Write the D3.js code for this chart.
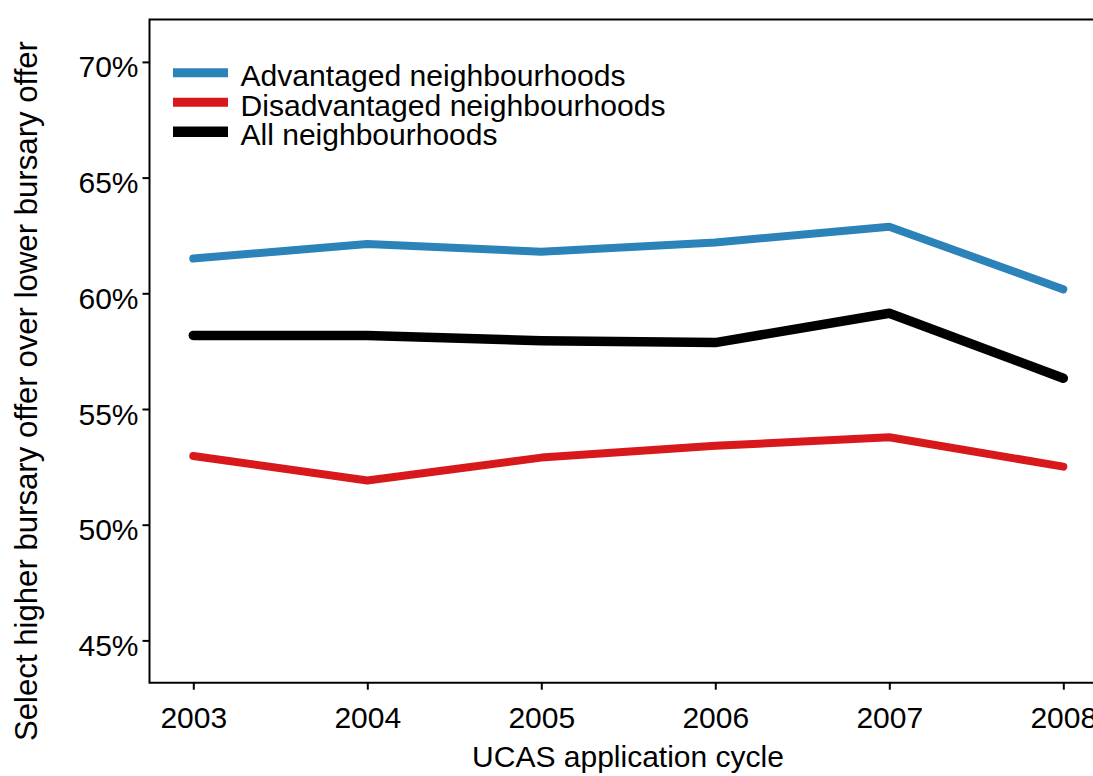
<!DOCTYPE html>
<html>
<head>
<meta charset="utf-8">
<script src="https://cdn.jsdelivr.net/npm/d3@7"></script>
<style>
  body { margin: 0; background: #fff; }
  svg { display: block; font-family: "Liberation Sans", Arial, sans-serif; }
  .axis text { font-size: 30px; fill: #000; }
  .axis line { stroke: #000; stroke-width: 2; }
  .axis path { display: none; }
</style>
</head>
<body>
<svg id="chart" width="1093" height="776"></svg>
<script>
const years = [2003, 2004, 2005, 2006, 2007, 2008];
const advantaged = [61.5, 62.13, 61.8, 62.2, 62.88, 60.17];
const disadvantaged = [52.97, 51.91, 52.9, 53.41, 53.78, 52.51];
const allHoods = [58.18, 58.18, 57.95, 57.87, 59.14, 56.33];
const yTicks = [45, 50, 55, 60, 65, 70];

const seriesNames = ['Advantaged neighbourhoods', 'Disadvantaged neighbourhoods', 'All neighbourhoods'];
const seriesColors = ['#2b83ba', '#d7191c', '#000000'];
const seriesWidths = [8, 8, 9.5];
const seriesValues = [advantaged, disadvantaged, allHoods];
// widths the legend labels take up in the original picture
const legendTextWidths = [385, 425, 257];

const box = { left: 149.5, top: 19.5, bottom: 682.7, right: 1110 };

const svg = d3.select('#chart');

const x = d3.scaleLinear().domain([2003, 2008]).range([193.3, 1063.3]);
const y = d3.scaleLinear().domain([45, 70]).range([640.4, 61.9]);

// plot frame (right side runs off the page like the original)
svg.append('path')
  .attr('d', `M${box.right},${box.top} H${box.left} V${box.bottom} H${box.right}`)
  .attr('fill', 'none')
  .attr('stroke', '#000')
  .attr('stroke-width', 2);

// axes
const yAxis = svg.append('g')
  .attr('class', 'axis')
  .attr('transform', `translate(${box.left},0)`)
  .call(d3.axisLeft(y).tickValues(yTicks).tickSize(7).tickPadding(4)
    .tickFormat(d => d + '%'));
yAxis.selectAll('text').attr('dy', '15px').attr('x', -11);

const xAxis = svg.append('g')
  .attr('class', 'axis')
  .attr('transform', `translate(0,${box.bottom})`)
  .call(d3.axisBottom(x).tickValues(years).tickSize(7).tickFormat(d3.format('d')));
xAxis.selectAll('text').attr('dy', null).attr('y', 45);

// lines
const line = d3.line()
  .x((d, i) => x(years[i]))
  .y(d => y(d));

seriesValues.forEach((vals, i) => {
  svg.append('path')
    .datum(vals)
    .attr('d', line)
    .attr('fill', 'none')
    .attr('stroke', seriesColors[i])
    .attr('stroke-width', seriesWidths[i])
    .attr('stroke-linecap', 'round')
    .attr('stroke-linejoin', 'round');
});

// legend
const legend = svg.append('g').attr('transform', 'translate(173,72.7)');
seriesNames.forEach((name, i) => {
  const row = legend.append('g').attr('transform', `translate(0,${i * 29.5})`);
  row.append('line')
    .attr('x1', 0).attr('x2', 55)
    .attr('stroke', seriesColors[i])
    .attr('stroke-width', seriesWidths[i] + 1);
  row.append('text')
    .attr('x', 67.5)
    .attr('y', 13.5)
    .attr('font-size', 29)
    .attr('textLength', legendTextWidths[i])
    .attr('lengthAdjust', 'spacingAndGlyphs')
    .text(name);
});

// axis titles
svg.append('text')
  .attr('x', 628)
  .attr('y', 767)
  .attr('text-anchor', 'middle')
  .attr('font-size', 30)
  .text('UCAS application cycle');

svg.append('text')
  .attr('transform', 'translate(37,391) rotate(-90)')
  .attr('text-anchor', 'middle')
  .attr('font-size', 31)
  .attr('textLength', 700)
  .attr('lengthAdjust', 'spacingAndGlyphs')
  .text('Select higher bursary offer over lower bursary offer');
</script>
</body>
</html>
